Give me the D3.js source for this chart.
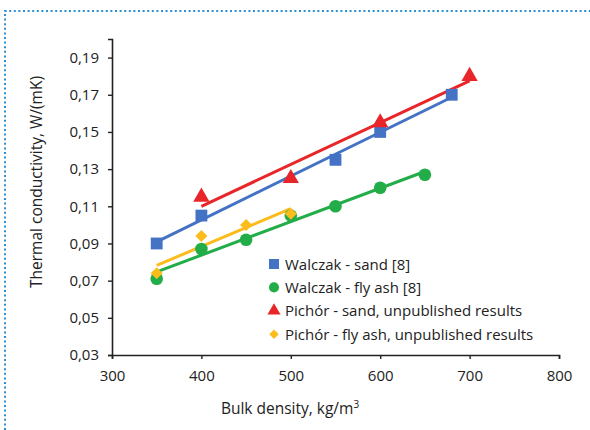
<!DOCTYPE html>
<html>
<head>
<meta charset="utf-8">
<script src="https://cdn.jsdelivr.net/npm/d3@7"></script>
<style>
  body { margin: 0; background: #fff; }
  text { font-family: "Open Sans", sans-serif; fill: #222; }
</style>
</head>
<body>
<svg id="draw-here"></svg>
<script>
// data
let sandX = [350, 400, 550, 600, 680];
let sandY = [0.09, 0.105, 0.135, 0.15, 0.17];
let ashX = [350, 400, 450, 500, 550, 600, 650];
let ashY = [0.071, 0.087, 0.092, 0.105, 0.11, 0.12, 0.127];
let pSandX = [400, 500, 600, 700];
let pSandY = [0.115, 0.125, 0.155, 0.18];
let pAshX = [350, 400, 450, 500];
let pAshY = [0.074, 0.094, 0.1, 0.106];

let xTicks = [300, 400, 500, 600, 700, 800];
let yTicks = [0.03, 0.05, 0.07, 0.09, 0.11, 0.13, 0.15, 0.17, 0.19];
let legendLabels = [
  "Walczak - sand [8]",
  "Walczak - fly ash [8]",
  "Pichór - sand, unpublished results",
  "Pichór - fly ash, unpublished results"
];

// diamond = square turned 45deg
let series = [
  {xs: sandX, ys: sandY, color: '#4472c4', shape: d3.symbolSquare, size: 140, lsize: 100, rot: 0},
  {xs: ashX, ys: ashY, color: '#22ad48', shape: d3.symbolCircle, size: 125, lsize: 80, rot: 0},
  {xs: pSandX, ys: pSandY, color: '#e8262a', shape: d3.symbolTriangle, size: 115, lsize: 75, rot: 0},
  {xs: pAshX, ys: pAshY, color: '#fbbc1c', shape: d3.symbolSquare, size: 72, lsize: 45, rot: 45}
];

let svg = d3.select('#draw-here')
            .attr('width', 590)
            .attr('height', 430);

// dotted frame
svg.append('path')
  .attr('d', 'M5,430 L5,11 L590,11')
  .attr('fill', 'none')
  .attr('stroke', '#2c8fd2')
  .attr('stroke-width', 2)
  .attr('stroke-dasharray', '2,2.6');

let x = d3.scaleLinear().domain([300, 800]).range([112, 559]);
let y = d3.scaleLinear().domain([0.03, 0.2]).range([355, 39]);

let fmt = d3.format('.2f');

let xAxis = svg.append('g')
  .attr('transform', 'translate(0,355)')
  .call(d3.axisBottom(x).tickValues(xTicks).tickSize(4).tickPadding(11));
let yAxis = svg.append('g')
  .attr('transform', 'translate(112,0)')
  .call(d3.axisLeft(y).tickValues(yTicks).tickSize(4).tickPadding(9)
        .tickFormat(d => fmt(d).replace('.', ',')));

[xAxis, yAxis].forEach(a => {
  a.select('.domain').attr('stroke', '#222').attr('stroke-width', 1.6);
  a.selectAll('.tick line').attr('stroke', '#222').attr('stroke-width', 1.4);
  a.selectAll('.tick text').attr('font-size', 15).attr('fill', '#333')
    .attr('font-family', '"Open Sans", sans-serif');
});

// trend lines (least squares of each series)
function fit(xs, ys) {
  let mx = d3.mean(xs), my = d3.mean(ys);
  let sxy = d3.sum(xs, (v, i) => (v - mx) * (ys[i] - my));
  let sxx = d3.sum(xs, v => (v - mx) * (v - mx));
  let b = sxy / sxx;
  return v => my + b * (v - mx);
}

series.forEach(s => {
  let f = fit(s.xs, s.ys);
  let ends = d3.extent(s.xs);
  svg.append('line')
    .attr('x1', x(ends[0])).attr('y1', y(f(ends[0])))
    .attr('x2', x(ends[1])).attr('y2', y(f(ends[1])))
    .attr('stroke', s.color)
    .attr('stroke-width', 3);
});

series.forEach(s => {
  svg.append('g').selectAll('path')
    .data(s.xs)
    .enter().append('path')
    .attr('transform', (d, i) => 'translate(' + x(d) + ',' + y(s.ys[i]) + ') rotate(' + s.rot + ')')
    .attr('d', d3.symbol().type(s.shape).size(s.size))
    .attr('fill', s.color);
});

// legend
let legend = svg.append('g').attr('transform', 'translate(274,264)');
legendLabels.forEach((lab, i) => {
  let row = legend.append('g').attr('transform', 'translate(0,' + (i * 23.4) + ')');
  row.append('path')
    .attr('transform', 'rotate(' + series[i].rot + ')')
    .attr('d', d3.symbol().type(series[i].shape).size(series[i].lsize))
    .attr('fill', series[i].color);
  row.append('text')
    .attr('x', 11).attr('y', 5.5)
    .attr('font-size', 15)
    .text(lab);
});

// axis titles
svg.append('text')
  .attr('transform', 'translate(42,182) rotate(-90)')
  .attr('text-anchor', 'middle')
  .attr('font-size', 15.5)
  .text('Thermal conductivity, W/(mK)');

let xt = svg.append('text')
  .attr('x', 290).attr('y', 414)
  .attr('text-anchor', 'middle')
  .attr('font-size', 15.5);
xt.append('tspan').text('Bulk density,  kg/m');
xt.append('tspan').attr('dy', -6).attr('font-size', 10).text('3');
</script>
</body>
</html>
